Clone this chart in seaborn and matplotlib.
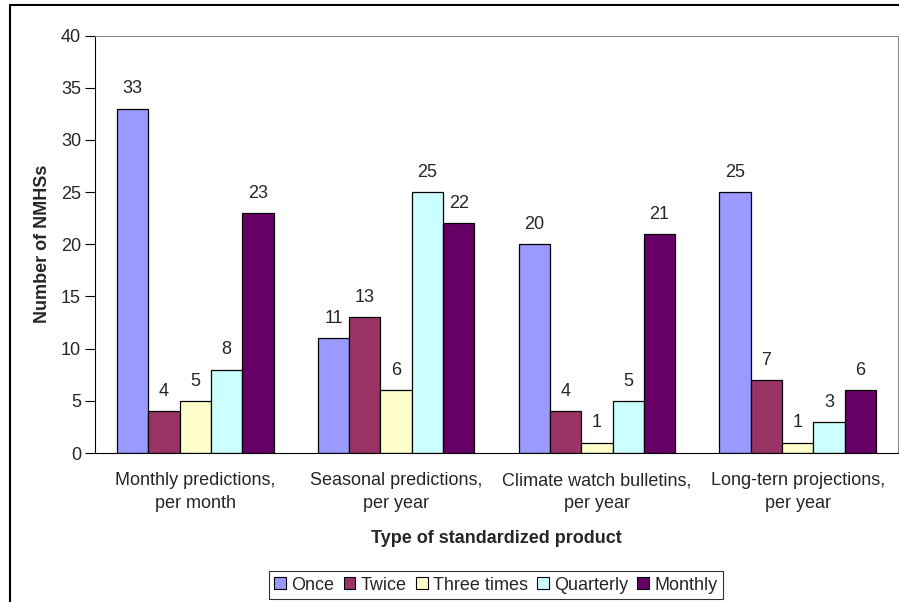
import matplotlib
matplotlib.use("Agg")
import matplotlib.pyplot as plt
from matplotlib.patches import Patch
from matplotlib.lines import Line2D
import seaborn as sns
import pandas as pd

# data
products = ["Monthly predictions,\nper month", "Seasonal predictions,\nper year",
            "Climate watch bulletins,\nper year", "Long-tern projections,\nper year"]
series = ["Once", "Twice", "Three times", "Quarterly", "Monthly"]
once = [33, 11, 20, 25]
twice = [4, 13, 4, 7]
three_times = [5, 6, 1, 1]
quarterly = [8, 25, 5, 3]
monthly = [23, 22, 21, 6]
colors = ["#9999FF", "#993366", "#FFFFCC", "#CCFFFF", "#660066"]

rows = []
for name, vals in zip(series, [once, twice, three_times, quarterly, monthly]):
    for p, v in zip(products, vals):
        rows.append({"product": p, "freq": name, "count": v})
df = pd.DataFrame(rows)

sns.set_style("white")
plt.rcParams["font.family"] = ["Liberation Sans", "DejaVu Sans"]
fs = 13
plt.rcParams["font.size"] = fs

fig = plt.figure(figsize=(8.99, 6.02), dpi=100)
ax = fig.add_axes([95 / 899, 1 - 453 / 602, 803 / 899, 417.5 / 602])

sns.barplot(data=df, x="product", y="count", hue="freq", hue_order=series,
            palette=colors, width=0.78, gap=0, edgecolor="black", linewidth=0.9,
            saturation=1, legend=False, ax=ax)

for c in ax.containers:
    ax.bar_label(c, padding=8, fontsize=fs)

ax.set_ylim(0, 40)
ax.set_xlim(-0.5, 3.5)
ax.set_yticks(range(0, 41, 5))
ax.set_xticks([i - 0.5 for i in range(5)], minor=True)
ax.tick_params(axis="x", which="major", length=0, pad=14, labelsize=fs)
ax.tick_params(axis="x", which="minor", length=5, width=0.8, color="black", direction="out")
ax.tick_params(axis="y", length=7, width=0.8, color="black", direction="out", left=True,
               pad=3, labelsize=fs)
for lab in ax.get_xticklabels():
    lab.set_linespacing(1.4)

for side in ["top", "right"]:
    ax.spines[side].set_color("#888888")
    ax.spines[side].set_linewidth(0.8)
for side in ["left", "bottom"]:
    ax.spines[side].set_color("black")
    ax.spines[side].set_linewidth(0.8)

ax.set_xlabel("Type of standardized product", fontweight="bold", labelpad=13, fontsize=fs)
ax.set_ylabel("Number of NMHSs", fontweight="bold", labelpad=7, fontsize=fs)

handles = [Patch(facecolor=col, edgecolor="black", linewidth=0.8, label=s)
           for col, s in zip(colors, series)]
leg = fig.legend(handles=handles, loc="center", bbox_to_anchor=(496 / 899, 1 - 585 / 602),
                 ncol=5, frameon=True, fancybox=False, handlelength=0.65, handleheight=0.65,
                 handletextpad=0.3, columnspacing=0.5, borderpad=0.3, fontsize=fs)
leg.get_frame().set_edgecolor("black")
leg.get_frame().set_linewidth(0.8)

# outer chart border (top and left visible)
fig.add_artist(Line2D([10 / 899, 1], [1 - 5 / 602, 1 - 5 / 602], color="black", lw=1.5,
                      transform=fig.transFigure))
fig.add_artist(Line2D([10 / 899, 10 / 899], [0, 1 - 5 / 602], color="black", lw=1.5,
                      transform=fig.transFigure))

fig.savefig("out.png", dpi=100)
